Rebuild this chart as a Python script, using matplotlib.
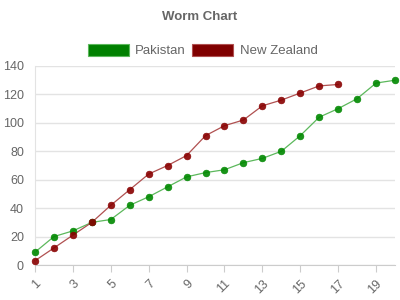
import matplotlib
matplotlib.use("Agg")
import matplotlib.pyplot as plt
from matplotlib.patches import Rectangle

plt.rcParams['font.family'] = ['Liberation Sans', 'DejaVu Sans']

title = "Worm Chart"
series_names = ["Pakistan", "New Zealand"]
overs_pak = list(range(1, 21))
pakistan = [9, 20, 24, 30, 32, 42, 48, 55, 62, 65, 67, 72, 75, 80, 91, 104, 110, 117, 128, 130]
overs_nz = list(range(1, 18))
new_zealand = [3, 12, 21, 30, 42, 53, 64, 70, 77, 91, 98, 102, 112, 116, 121, 126, 127]
x_ticks = list(range(1, 20, 2))
y_ticks = [0, 20, 40, 60, 80, 100, 120, 140]

marker_colors = ["#008800", "#880000"]
line_colors = ["#5cb85c", "#b05050"]
box_colors = ["#008000", "#800000"]

W, H = 400, 300
fig = plt.figure(figsize=(4, 3), dpi=100)
ax = fig.add_axes([35 / W, 1 - 265 / H, 360 / W, 199 / H])

for xs, ys, mc, lc in [(overs_pak, pakistan, marker_colors[0], line_colors[0]),
                       (overs_nz, new_zealand, marker_colors[1], line_colors[1])]:
    ax.plot(xs, ys, color=lc, lw=0.9, zorder=2, clip_on=False)
    ax.plot(xs, ys, ls='none', marker='o', ms=4.8, mfc=mc, mec=mc, mew=0.5, alpha=0.9,
            zorder=3, clip_on=False)

ax.set_xlim(1, 20)
ax.set_ylim(0, 140)
ax.set_yticks(y_ticks)
ax.set_xticks(x_ticks)
ax.set_xticklabels([str(v) for v in x_ticks], rotation=45, ha='right', va='top',
                   rotation_mode='anchor')
ax.grid(axis='y', color='#e3e3e3', lw=1)
ax.set_axisbelow(True)
for s in ['top', 'right']:
    ax.spines[s].set_visible(False)
ax.spines['left'].set_color('#e3e3e3')
ax.spines['bottom'].set_color('#cccccc')
ax.tick_params(axis='y', length=0, labelsize=9, labelcolor='#666666', pad=8)
ax.tick_params(axis='x', length=5, color='#cccccc', labelsize=9, labelcolor='#666666', pad=4)

fig.text(200 / W, 1 - 17 / H, title, ha='center', va='center', fontsize=9.5,
         fontweight='bold', color='#666666')

# legend
boxes = [(88, 44), (192, 44)]
text_x = [135, 240]
for (bx, by), name, bc, lc, tx in zip(boxes, series_names, box_colors, line_colors, text_x):
    fig.add_artist(Rectangle((bx / W, 1 - (by + 12) / H), 41 / W, 12 / H,
                             transform=fig.transFigure, facecolor=bc, edgecolor=lc, lw=0.8))
    fig.text(tx / W, 1 - 50.5 / H, name, ha='left', va='center', fontsize=9.5, color='#666666')

fig.savefig("out.png", dpi=100, facecolor='white')
